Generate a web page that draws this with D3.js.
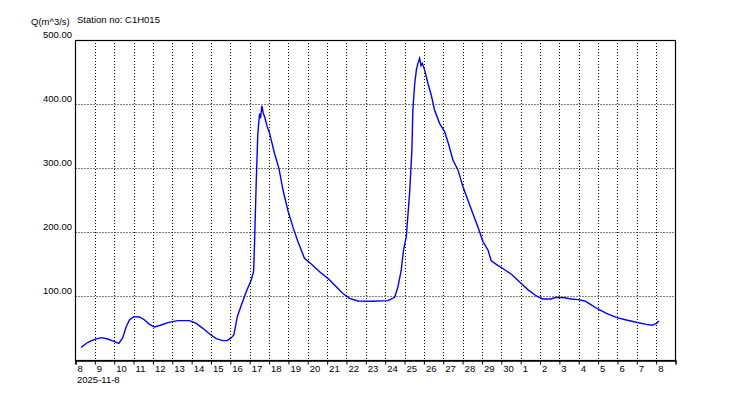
<!DOCTYPE html>
<html>
<head>
<meta charset="utf-8">
<script src="https://cdn.jsdelivr.net/npm/d3@7"></script>
<style>
body { margin: 0; background: #fff; }
text { font-family: "Liberation Sans", Arial, sans-serif; }
</style>
</head>
<body>
<script>
// readings: days since 2025-11-08 00:00, discharge m^3/s
const obsDays = [0.29,0.64,0.98,1.33,1.67,1.98,2.24,2.44,2.62,2.79,3.01,3.31,3.57,3.82,4.08,4.43,4.77,5.29,5.89,6.24,6.58,6.93,7.27,7.61,7.84,8.05,8.18,8.36,8.56,8.82,9.08,9.2,9.25,9.34,9.42,9.51,9.56,9.63,9.7,9.77,9.9,10.03,10.28,10.51,10.72,10.97,11.23,11.49,11.83,12.18,12.61,13.04,13.47,13.82,14.16,14.59,15.37,16.14,16.49,16.66,16.83,16.95,17.09,17.26,17.38,17.43,17.52,17.61,17.69,17.78,17.85,17.92,18.04,18.21,18.38,18.55,18.81,19.07,19.29,19.5,19.76,20.02,20.27,20.53,20.79,21.05,21.31,21.48,21.74,22.08,22.52,22.95,23.37,23.81,24.15,24.55,24.84,25.27,25.62,25.96,26.31,26.65,26.99,27.43,27.94,28.46,28.98,29.49,29.8,30.01,30.15];
const flowValues = [19.8,27.7,32.3,34.9,32.8,29.2,26,34.9,52,62.5,67.7,67.2,62.5,55.7,51.6,54.7,58.3,61.5,61.5,57.3,49.5,40.6,33.3,30.2,30.2,34.9,39,67.7,85,106.8,125,138,182,281,354,385,378,397,386,380,365,354,323,299.5,265.6,234,208,185,159,150,138,127.6,114.5,104,96.4,92.2,91.7,92.7,98,114.5,140.6,172,192.7,260,328,390.6,429.7,453,463.5,471.4,460,463.5,453,432,414,390.6,369.8,356.8,336,312.5,297,270.8,250,229,208,185,172,155,149.5,143,134,122,110,100,95.3,95.3,98,97.3,95.3,94.3,92.2,86,79.7,73,66.7,62.5,58.9,55.7,54.2,57.3,61];

const dayLabels = ["8","9","10","11","12","13","14","15","16","17","18","19","20","21","22","23","24","25","26","27","28","29","30","1","2","3","4","5","6","7","8"];
const yTicks = [100, 200, 300, 400, 500];
const yUnit = "Q(m^3/s)";
const stationText = "Station no: C1H015";
const startLabel = "2025-11-8";

const w = 750, h = 400;
const padL = 75.5, padR = 675.5, padT = 40, padB = 360;
const start = new Date(2025, 10, 8);
const dayMs = 86400000;

const svg = d3.select("body").append("svg")
  .attr("width", w)
  .attr("height", h);

const x = d3.scaleTime()
  .domain([start, new Date(start.getTime() + 31 * dayMs)])
  .range([padL, padR]);
const y = d3.scaleLinear().domain([0, 500]).range([padB, padT]);

const dayTicks = dayLabels.map((d, i) => new Date(start.getTime() + i * dayMs));

// grid
svg.append("g").selectAll("line")
  .data(dayTicks.slice(1))
  .join("line")
  .attr("x1", d => Math.round(x(d)) + 0.5).attr("x2", d => Math.round(x(d)) + 0.5)
  .attr("y1", padT).attr("y2", padB)
  .attr("stroke", "#000").attr("stroke-dasharray", "1,2");

svg.append("g").selectAll("line")
  .data(yTicks.slice(0, 4))
  .join("line")
  .attr("x1", padL).attr("x2", padR)
  .attr("y1", d => Math.round(y(d)) + 0.5).attr("y2", d => Math.round(y(d)) + 0.5)
  .attr("stroke", "#000").attr("stroke-dasharray", "1,2");

// frame
svg.append("rect")
  .attr("x", padL).attr("y", padT + 0.5)
  .attr("width", padR - padL).attr("height", padB - padT)
  .attr("fill", "none").attr("stroke", "#000").attr("stroke-width", 1.2);

// x axis
const xAxis = d3.axisBottom(x)
  .tickValues(dayTicks)
  .tickSize(4)
  .tickFormat((d, i) => dayLabels[i]);

const gx = svg.append("g")
  .attr("transform", "translate(0," + (padB + 0.5) + ")")
  .call(xAxis);
gx.select(".domain").attr("stroke-width", 1.5);
gx.selectAll(".tick line").attr("stroke", "#000");
gx.selectAll(".tick text")
  .attr("text-anchor", "start")
  .attr("x", 1.5)
  .attr("y", 5)
  .style("font-size", "9.5px")
  .attr("fill", "#000");

svg.append("text")
  .attr("x", 77).attr("y", 383)
  .style("font-size", "9.5px")
  .text(startLabel);

// y labels
svg.append("g").selectAll("text")
  .data(yTicks)
  .join("text")
  .attr("x", 72)
  .attr("y", d => y(d) - 2.5)
  .attr("text-anchor", "end")
  .style("font-size", "9.5px")
  .text(d => d.toFixed(2));

svg.append("text").attr("x", 31).attr("y", 25).style("font-size", "9.5px").text(yUnit);
svg.append("text").attr("x", 77).attr("y", 23).style("font-size", "9.5px").text(stationText);

// flow line
const pts = obsDays.map((d, i) => ({ t: new Date(start.getTime() + d * dayMs), v: flowValues[i] }));
const line = d3.line().x(d => x(d.t)).y(d => y(d.v));
svg.append("path")
  .datum(pts)
  .attr("d", line)
  .attr("fill", "none")
  .attr("stroke", "#0000ff")
  .attr("stroke-width", 1.4);
</script>
</body>
</html>
